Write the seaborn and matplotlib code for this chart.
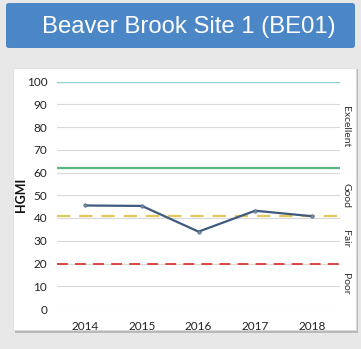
import matplotlib
matplotlib.use("Agg")
import matplotlib.pyplot as plt
import matplotlib.patches as mpatches
import matplotlib.transforms as mtransforms
import seaborn as sns
import pandas as pd

# ---- data ----
years = ["2014", "2015", "2016", "2017", "2018"]
hgmi = [45.5, 45.3, 34.0, 43.2, 40.8]
threshold_values = [100, 62, 41, 20]
class_labels = ["Excellent", "Good", "Fair", "Poor"]
class_label_y = [80, 50, 31, 11]
yticks = [0, 10, 20, 30, 40, 50, 60, 70, 80, 90, 100]
title = "Beaver Brook Site 1 (BE01)"
ylabel = "HGMI"

W, H = 361, 349
sns.set_theme(style="white")
plt.rcParams["font.family"] = ["Lato", "DejaVu Sans"]

fig = plt.figure(figsize=(W / 100, H / 100), dpi=100)
fig.patch.set_facecolor("#e8e8e8")

def fx(x):
    return x / W

def fy(y):
    return 1 - y / H

# banner
banner = mpatches.FancyBboxPatch((fx(6), fy(48)), fx(349), 45 / H,
                                 boxstyle="round,pad=0,rounding_size=0.008",
                                 transform=fig.transFigure, facecolor="#4b87c7",
                                 edgecolor="none", zorder=-10)
fig.patches.append(banner)
fig.text(fx(189), fy(27.5), title, color="white", fontsize=17.2,
         family=["Liberation Sans", "DejaVu Sans"], ha="center", va="center")

# panel shadow + panel
shadow = mpatches.Rectangle((fx(15), fy(333)), fx(343), 264 / H,
                            transform=fig.transFigure, facecolor="#b9b9b9",
                            edgecolor="none", zorder=-10)
fig.patches.append(shadow)
panel = mpatches.Rectangle((fx(13), fy(330)), fx(343), 262 / H,
                           transform=fig.transFigure, facecolor="white",
                           edgecolor="#d8d8d8", linewidth=0.5, zorder=-9)
fig.patches.append(panel)

ax = fig.add_axes([fx(57), fy(309), fx(283), (309 - 81.5) / H])
ax.set_zorder(5)
ax.set_facecolor("none")

df = pd.DataFrame({"Year": years, "HGMI": hgmi})

# gridlines
for t in yticks:
    ax.axhline(t, color="#d9d9d9", lw=0.8, zorder=1)

line_styles = [
    dict(color="#8fd3cf", lw=1.0, ls="-"),
    dict(color="#5cb583", lw=1.6, ls="-"),
    dict(color="#e3c75a", lw=1.6, ls=(0, (6, 4))),
    dict(color="#d93a32", lw=1.3, ls=(0, (6, 4))),
]
for v, st in zip(threshold_values, line_styles):
    ax.axhline(v, zorder=2, **st)

sns.lineplot(data=df, x="Year", y="HGMI", ax=ax, color="#3f5a7d", lw=1.6,
             marker="o", markersize=2.5, markerfacecolor="#7d8fa6",
             markeredgecolor="#3f5a7d", markeredgewidth=0.4, zorder=3)

ax.set_xlim(-0.5, 4.5)
ax.set_ylim(0, 100)
ax.set_yticks(yticks)
ax.set_yticklabels([str(t) for t in yticks])
ax.tick_params(axis="both", labelsize=8.5, colors="#222222", length=0, pad=7)
ax.tick_params(axis="x", pad=9)
for s in ax.spines.values():
    s.set_visible(False)
ax.set_xlabel("")
ax.set_ylabel(ylabel, fontsize=9, fontweight="bold", color="#111111", labelpad=0)

trans = mtransforms.blended_transform_factory(ax.transAxes, ax.transData)
for lab, yy in zip(class_labels, class_label_y):
    ax.text(1.02, yy, lab, transform=trans, rotation=270, ha="center",
            va="center", fontsize=7.5, color="#333333")

fig.savefig("out.png", dpi=100, facecolor=fig.get_facecolor())
